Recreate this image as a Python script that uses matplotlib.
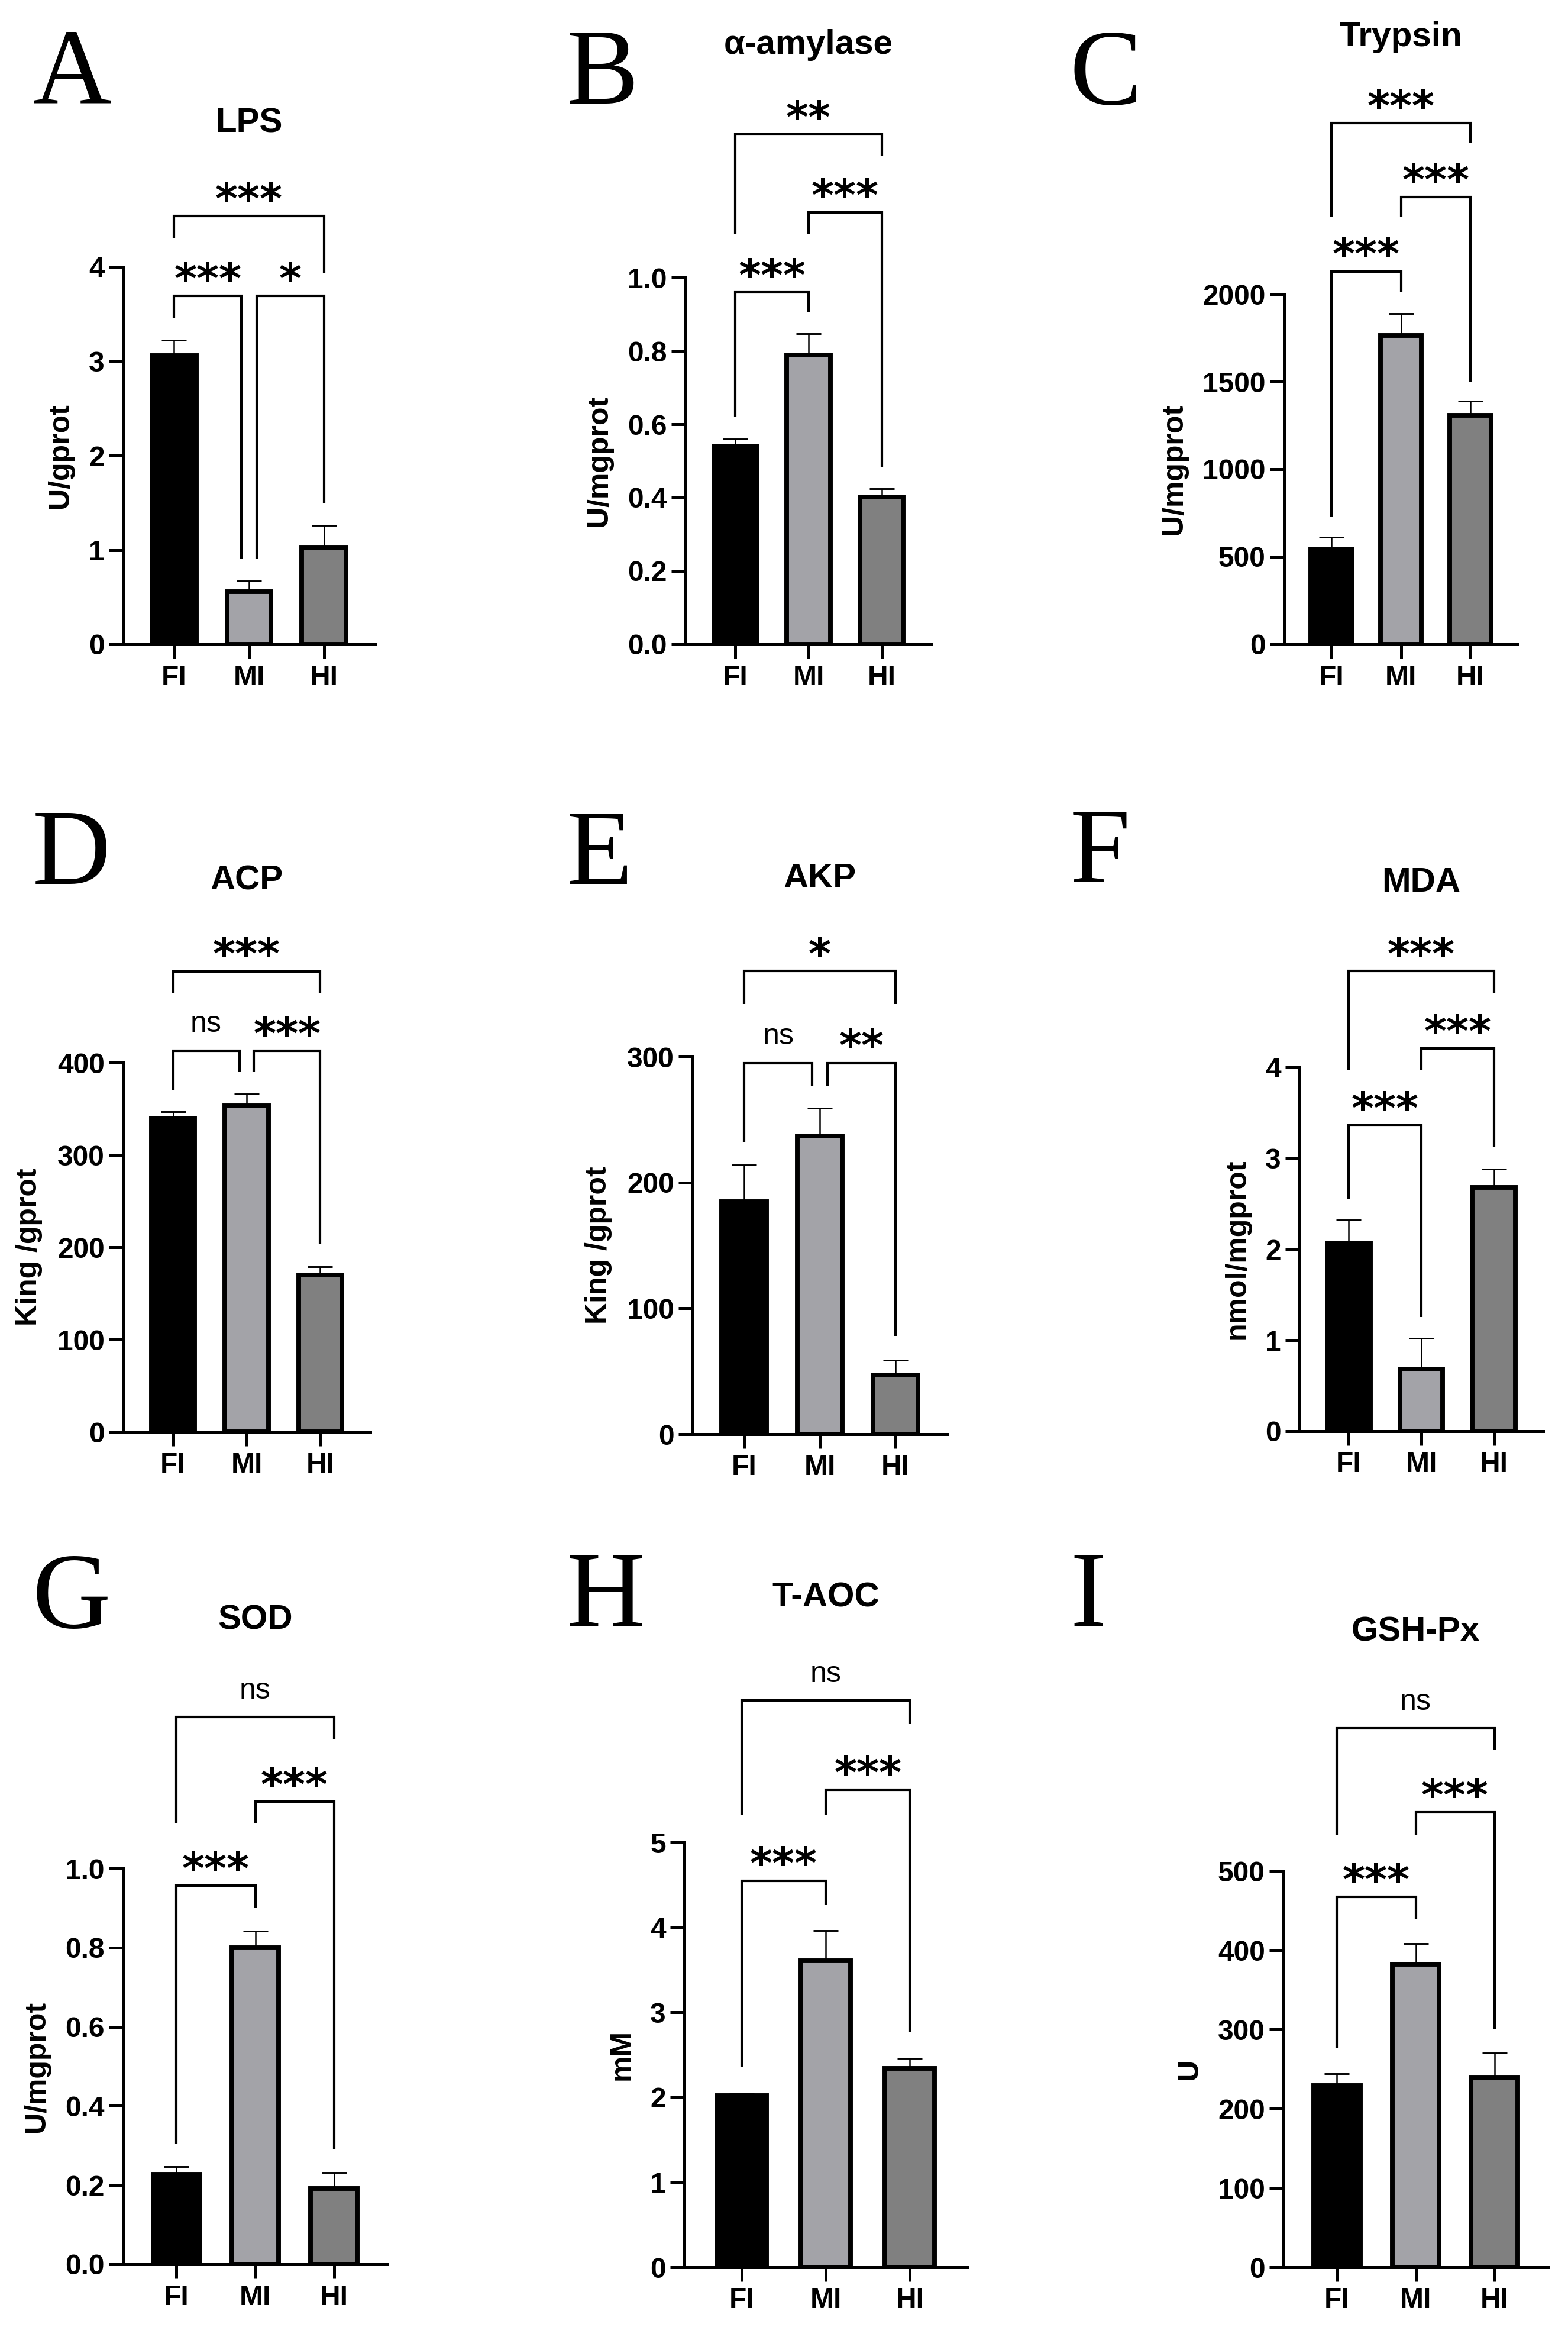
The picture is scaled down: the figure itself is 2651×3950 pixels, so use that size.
import matplotlib
matplotlib.use("Agg")
import matplotlib.pyplot as plt

W, H = 2651, 3950
DPI = 300

plt.rcParams['font.family'] = ['Liberation Sans', 'DejaVu Sans']
plt.rcParams['font.weight'] = 'bold'
plt.rcParams['axes.labelweight'] = 'bold'

# --- data ---
groups = ["FI", "MI", "HI"]
bar_colors = ["#000000", "#a3a3a8", "#808080"]

letters = ["A", "B", "C", "D", "E", "F", "G", "H", "I"]
titles = ["LPS", "α-amylase", "Trypsin", "ACP", "AKP", "MDA", "SOD", "T-AOC", "GSH-Px"]
ylabels = ["U/gprot", "U/mgprot", "U/mgprot", "King /gprot", "King /gprot",
           "nmol/mgprot", "U/mgprot", "mM", "U"]

lps_mean, lps_sd = [3.06, 0.56, 1.02], [0.16, 0.11, 0.24]
amy_mean, amy_sd = [0.541, 0.789, 0.402], [0.019, 0.057, 0.023]
try_mean, try_sd = [545, 1762, 1308], [65, 127, 79]
acp_mean, acp_sd = [340, 353, 170], [7, 13, 9]
akp_mean, akp_sd = [185, 237, 47], [29, 22, 12]
mda_mean, mda_sd = [2.07, 0.68, 2.68], [0.25, 0.34, 0.20]
sod_mean, sod_sd = [0.227, 0.799, 0.191], [0.020, 0.042, 0.040]
aoc_mean, aoc_sd = [2.02, 3.61, 2.34], [0.03, 0.355, 0.116]
gsh_mean, gsh_sd = [229, 382, 239], [15, 26, 31]

means = [lps_mean, amy_mean, try_mean, acp_mean, akp_mean, mda_mean, sod_mean, aoc_mean, gsh_mean]
sds = [lps_sd, amy_sd, try_sd, acp_sd, akp_sd, mda_sd, sod_sd, aoc_sd, gsh_sd]

yticks = [
    [0, 1, 2, 3, 4],
    [0.0, 0.2, 0.4, 0.6, 0.8, 1.0],
    [0, 500, 1000, 1500, 2000],
    [0, 100, 200, 300, 400],
    [0, 100, 200, 300],
    [0, 1, 2, 3, 4],
    [0.0, 0.2, 0.4, 0.6, 0.8, 1.0],
    [0, 1, 2, 3, 4, 5],
    [0, 100, 200, 300, 400, 500],
]

# significance brackets: (group i, group j, bar height, leg end i, leg end j, label)
brackets = [
    [(0, 2, 4.54, 4.31, 3.94, "***"), (0, 1, 3.69, 3.46, 0.905, "***"), (1, 2, 3.69, 0.905, 1.5, "*")],
    [(0, 2, 1.39, 1.12, 1.333, "**"), (1, 2, 1.177, 1.12, 0.483, "***"), (0, 1, 0.96, 0.62, 0.905, "***")],
    [(0, 2, 2976, 2440, 2862, "***"), (1, 2, 2553, 2440, 1500, "***"), (0, 1, 2130, 729, 2011, "***")],
    [(0, 2, 499, 475, 475, "***"), (0, 1, 413, 370, 390, "ns"), (1, 2, 413, 390, 203, "***")],
    [(0, 2, 368, 342, 342, "*"), (0, 1, 295, 232, 277, "ns"), (1, 2, 295, 277, 78, "**")],
    [(0, 2, 5.06, 3.97, 4.82, "***"), (1, 2, 4.21, 3.97, 3.125, "***"), (0, 1, 3.36, 2.55, 1.257, "***")],
    [(0, 2, 1.383, 1.113, 1.326, "ns"), (1, 2, 1.169, 1.113, 0.291, "***"), (0, 1, 0.957, 0.304, 0.90, "***")],
    [(0, 2, 6.67, 5.32, 6.39, "ns"), (1, 2, 5.62, 5.32, 2.77, "***"), (0, 1, 4.55, 2.36, 4.26, "***")],
    [(0, 2, 680, 545, 652, "ns"), (1, 2, 574, 545, 301, "***"), (0, 1, 467, 276, 439, "***")],
]

# --- layout in pixels: y-axis x, x-axis end, y of zero, y of top tick ---
boxes = [
    (208, 634, 1089, 451), (1159, 1575, 1089, 469), (2171, 2566, 1089, 497),
    (208, 626, 2420, 1796), (1171, 1601, 2424, 1786), (2197, 2609, 2419, 1804),
    (208, 655, 3827, 3158), (1157, 1635, 3832, 3114), (2170, 2617, 3832, 3162),
]
title_y = [208, 76, 63, 1489, 1485, 1492, 2738, 2700, 2759]
letter_pos = [(55, 131), (958, 131), (1809, 132), (55, 1450), (958, 1450), (1809, 1447),
              (55, 2707), (958, 2704), (1809, 2704)]

fig = plt.figure(figsize=(W / DPI, H / DPI), dpi=DPI)
x = [0, 1, 2]

for k in range(9):
    l, r, b, t = boxes[k]
    ax = fig.add_axes([l / W, 1 - b / H, (r - l) / W, (b - t) / H])

    ax.errorbar(x, means[k], yerr=[[0, 0, 0], sds[k]], fmt='none', ecolor='black',
                elinewidth=0.6, capsize=5.0, capthick=0.7, zorder=2)
    ax.bar(x, means[k], width=0.59, color=bar_colors, edgecolor='black',
           linewidth=1.9, zorder=3)

    ax.set_xlim(-0.68, 2.68)
    ax.set_ylim(0, yticks[k][-1])
    ax.set_yticks(yticks[k])
    ax.set_xticks(x)
    ax.set_xticklabels(groups)
    ax.spines[['top', 'right']].set_visible(False)
    for s in ['left', 'bottom']:
        ax.spines[s].set_linewidth(1.2)
    ax.tick_params(axis='both', width=1.2, length=5.8, labelsize=11.5)
    ax.tick_params(axis='y', pad=1.7)
    ax.tick_params(axis='x', pad=2.3)
    ax.set_ylabel(ylabels[k], fontsize=12, labelpad=6)

    # brackets
    heights = [br[2] for br in brackets[k]]
    for (i, j, yb, yi, yj, lab) in brackets[k]:
        xi, xj = float(i), float(j)
        shared = heights.count(yb) > 1
        if shared and j == 1:
            xj -= 0.1
        if shared and i == 1:
            xi += 0.1
        ax.plot([xi, xi, xj, xj], [yi, yb, yb, yj], color='black', lw=1.0,
                clip_on=False, solid_joinstyle='miter', solid_capstyle='butt', zorder=4)
        xc = (xi + xj) / 2
        if lab == "ns":
            ax.annotate(lab, xy=(xc, yb), xytext=(0, 7.5), textcoords='offset points',
                        ha='center', va='baseline', fontsize=12, fontweight='normal',
                        annotation_clip=False)
        else:
            ax.annotate(lab, xy=(xc, yb), xytext=(0, 1.0), textcoords='offset points',
                        ha='center', va='baseline', fontsize=17.5, fontweight='bold',
                        family='DejaVu Sans', annotation_clip=False)

    ax.annotate(titles[k], xy=(1, 1 - title_y[k] / H), xycoords=('data', 'figure fraction'),
                ha='center', va='center', fontsize=14, fontweight='bold',
                annotation_clip=False)

    lx, ly = letter_pos[k]
    fig.text(lx / W, 1 - ly / H, letters[k], family='Liberation Serif', fontweight='normal',
             fontsize=44, ha='left', va='center')

fig.savefig("out.png", dpi=DPI)
